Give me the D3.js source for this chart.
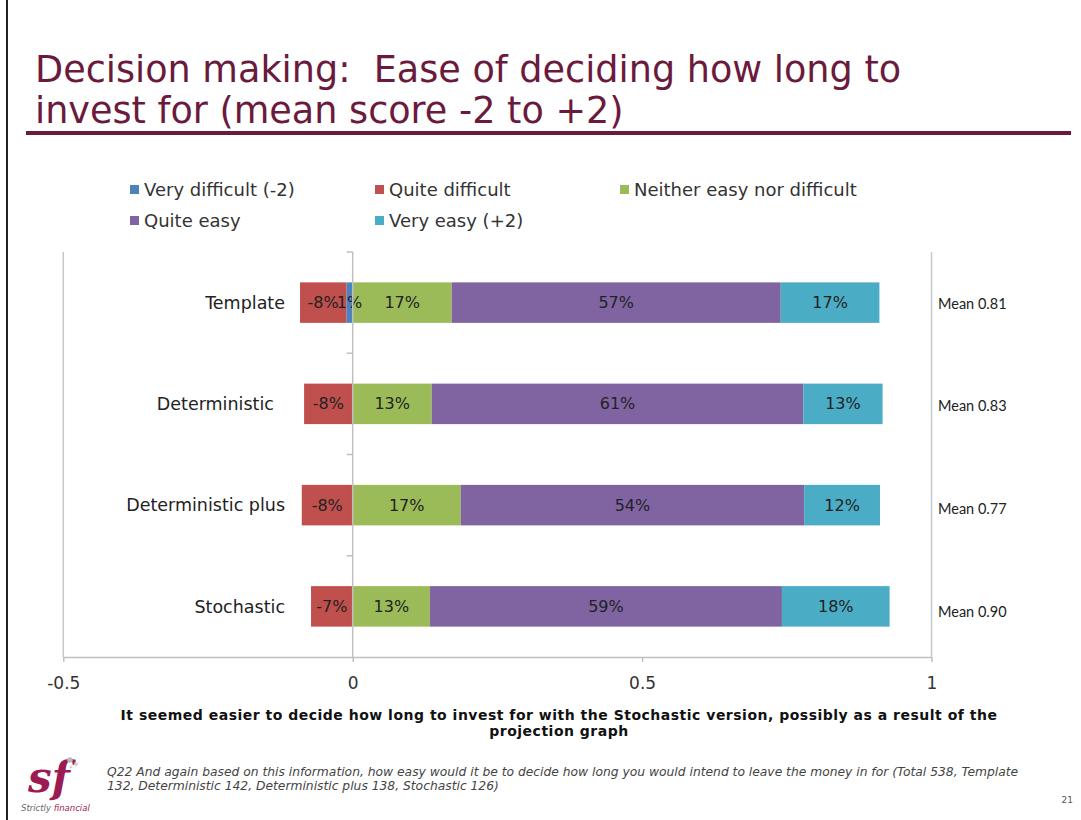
<!DOCTYPE html>
<html>
<head>
<meta charset="utf-8">
<script src="https://cdn.jsdelivr.net/npm/d3@7"></script>
<style>
  html, body { margin: 0; padding: 0; background: #fff; }
  svg { display: block; }
</style>
</head>
<body>
<script>
// ---------- data ----------
const categories = ["Template", "Deterministic", "Deterministic plus", "Stochastic"];
const categoryLabels = ["Template", "Deterministic\u00a0\u00a0", "Deterministic plus", "Stochastic"];
const seriesNames = ["Very difficult (-2)", "Quite difficult", "Neither easy nor difficult", "Quite easy", "Very easy (+2)"];
const seriesColors = ["#4f81bd", "#c0504d", "#9bbb59", "#8064a2", "#4bacc6"];
const veryDifficult  = [-0.011, 0, 0, 0];
const quiteDifficult = [-0.080, -0.084, -0.088, -0.072];
const neither        = [0.171, 0.1365, 0.1866, 0.1336];
const quiteEasy      = [0.5685, 0.642, 0.5934, 0.608];
const veryEasy       = [0.1705, 0.137, 0.131, 0.186];
const labelVeryDifficult  = ["1%", "", "", ""];
const labelQuiteDifficult = ["-8%", "-8%", "-8%", "-7%"];
const labelNeither        = ["17%", "13%", "17%", "13%"];
const labelQuiteEasy      = ["57%", "61%", "54%", "59%"];
const labelVeryEasy       = ["17%", "13%", "12%", "18%"];
const means = ["Mean 0.81", "Mean 0.83", "Mean 0.77", "Mean 0.90"];
const xTicks = [-0.5, 0, 0.5, 1];
const xTickLabels = ["-0.5", "0", "0.5", "1"];

const W = 1081, H = 820;
const svg = d3.select("body").append("svg").attr("width", W).attr("height", H);

// slide left border
svg.append("line").attr("x1", 7).attr("x2", 7).attr("y1", 0).attr("y2", H)
  .attr("stroke", "#222").attr("stroke-width", 2);

// ---------- title ----------
const maroon = "#6a1a3d";
const title = svg.append("text").attr("font-family", "DejaVu Sans").attr("font-size", 36.6)
  .attr("fill", maroon).attr("xml:space", "preserve");
title.append("tspan").attr("x", 35).attr("y", 82).text("Decision making:  Ease of deciding how long to");
title.append("tspan").attr("x", 35).attr("y", 123).text("invest for (mean score -2 to +2)");
svg.append("line").attr("x1", 26).attr("x2", 1071).attr("y1", 133).attr("y2", 133)
  .attr("stroke", maroon).attr("stroke-width", 4);

// ---------- legend ----------
const legendPos = [[130, 190], [375, 190], [620, 190], [130, 221], [375, 221]];
seriesNames.forEach((n, i) => {
  const g = svg.append("g").attr("transform", `translate(${legendPos[i][0]},${legendPos[i][1]})`);
  g.append("rect").attr("x", 0).attr("y", -5).attr("width", 9).attr("height", 9).attr("fill", seriesColors[i]);
  g.append("text").attr("x", 14).attr("y", 0).attr("dy", "0.35em")
    .attr("font-family", "DejaVu Sans").attr("font-size", 18).attr("fill", "#333").text(n);
});

// ---------- scales ----------
const x = d3.scaleLinear().domain([-0.5, 1]).range([63.3, 931.5]);
const y = d3.scaleBand().domain(categories).range([252, 657]).paddingInner(0.6).paddingOuter(0.3);
const step = y.step();
const plotTop = 252, plotBottom = 657;

// vertical border lines at -0.5 and 1
[-0.5, 1].forEach(v => {
  svg.append("line").attr("x1", x(v)).attr("x2", x(v)).attr("y1", plotTop).attr("y2", plotBottom)
    .attr("stroke", "#c8c8c8").attr("stroke-width", 1.5);
});

// ---------- bars ----------
const seriesData = [veryDifficult, quiteDifficult, neither, quiteEasy, veryEasy];
const seriesLabels = [labelVeryDifficult, labelQuiteDifficult, labelNeither, labelQuiteEasy, labelVeryEasy];
const segs = [];
categories.forEach((c, ci) => {
  let neg = 0, pos = 0;
  seriesData.forEach((arr, si) => {
    const v = arr[ci];
    let x0, x1;
    if (v < 0) { x0 = neg + v; x1 = neg; neg += v; }
    else { x0 = pos; x1 = pos + v; pos += v; }
    segs.push({ c, si, x0, x1, label: seriesLabels[si][ci] });
  });
});
svg.append("g").selectAll("rect").data(segs.filter(d => d.x1 - d.x0 > 0)).join("rect")
  .attr("x", d => x(d.x0)).attr("width", d => x(d.x1) - x(d.x0))
  .attr("y", d => y(d.c)).attr("height", y.bandwidth())
  .attr("fill", d => seriesColors[d.si]);

svg.append("g").selectAll("text").data(segs.filter(d => d.label)).join("text")
  .attr("x", d => (x(d.x0) + x(d.x1)) / 2).attr("y", d => y(d.c) + y.bandwidth() / 2)
  .attr("dy", "0.35em").attr("text-anchor", "middle")
  .attr("font-family", "DejaVu Sans").attr("font-size", 16).attr("fill", "#222")
  .text(d => d.label);

// zero axis line with ticks on category boundaries
svg.append("line").attr("x1", x(0)).attr("x2", x(0)).attr("y1", plotTop).attr("y2", plotBottom)
  .attr("stroke", "#c0c0c0").attr("stroke-width", 1.5);
d3.range(categories.length).forEach(i => {
  const yy = plotTop + i * step;
  svg.append("line").attr("x1", x(0) - 6).attr("x2", x(0)).attr("y1", yy).attr("y2", yy)
    .attr("stroke", "#c0c0c0").attr("stroke-width", 1.5);
});

// category labels
svg.append("g").selectAll("text").data(categories).join("text")
  .attr("x", 285).attr("y", d => y(d) + y.bandwidth() / 2).attr("dy", "0.35em")
  .attr("text-anchor", "end").attr("font-family", "DejaVu Sans").attr("font-size", 17.5)
  .attr("fill", "#222").text((d, i) => categoryLabels[i]);

// mean labels
svg.append("g").selectAll("text").data(means).join("text")
  .attr("x", 938).attr("y", (d, i) => y(categories[i]) + y.bandwidth() / 2 + 1 + i * 1.5).attr("dy", "0.35em")
  .attr("font-family", "Lato").attr("font-size", 14.5).attr("fill", "#222").text(d => d);

// ---------- x axis ----------
const xAxis = d3.axisBottom(x).tickValues(xTicks).tickFormat((d, i) => xTickLabels[i]).tickSize(5).tickSizeOuter(0);
const ax = svg.append("g").attr("transform", `translate(0,${plotBottom})`).call(xAxis);
ax.select(".domain").attr("stroke", "#c0c0c0").attr("stroke-width", 1.5);
ax.selectAll(".tick line").attr("stroke", "#c0c0c0").attr("stroke-width", 1.5);
ax.selectAll(".tick text").attr("font-family", "DejaVu Sans").attr("font-size", 17)
  .attr("fill", "#333").attr("dy", "0.35em").attr("y", 26);

// ---------- conclusion ----------
const concl = svg.append("text").attr("text-anchor", "middle").attr("font-family", "DejaVu Sans")
  .attr("font-weight", "bold").attr("font-size", 14).attr("letter-spacing", 0.5).attr("fill", "#111");
concl.append("tspan").attr("x", 559).attr("y", 720).text("It seemed easier to decide how long to invest for with the Stochastic version, possibly as a result of the");
concl.append("tspan").attr("x", 559).attr("y", 736).text("projection graph");

// ---------- footnote ----------
const foot = svg.append("text").attr("font-family", "DejaVu Sans").attr("font-style", "italic")
  .attr("font-size", 12.3).attr("fill", "#444");
foot.append("tspan").attr("x", 107).attr("y", 776).text("Q22 And again based on this information, how easy would it be to decide how long you would intend to leave the money in for (Total 538, Template");
foot.append("tspan").attr("x", 107).attr("y", 790).text("132, Deterministic 142, Deterministic plus 138, Stochastic 126)");

svg.append("text").attr("x", 1073).attr("y", 803).attr("text-anchor", "end")
  .attr("font-family", "DejaVu Sans").attr("font-size", 9).attr("fill", "#555").text("21");

// ---------- logo ----------
svg.append("text").attr("x", 28).attr("y", 792).attr("font-family", "DejaVu Serif")
  .attr("font-style", "italic").attr("font-weight", "bold").attr("font-size", 42)
  .attr("fill", "#9b1b52").text("sf");
[[70, 760, 2.8, "#b9b9b9"], [76, 764, 1.9, "#cfcfcf"], [71, 767, 1.5, "#d5d5d5"]].forEach(p => {
  svg.append("circle").attr("cx", p[0]).attr("cy", p[1]).attr("r", p[2]).attr("fill", p[3]);
});
const logoTxt = svg.append("text").attr("x", 21).attr("y", 811).attr("font-family", "DejaVu Sans")
  .attr("font-style", "italic").attr("font-size", 8.5);
logoTxt.append("tspan").attr("fill", "#666").text("Strictly ");
logoTxt.append("tspan").attr("fill", "#9b1b52").text("financial");
</script>
</body>
</html>
